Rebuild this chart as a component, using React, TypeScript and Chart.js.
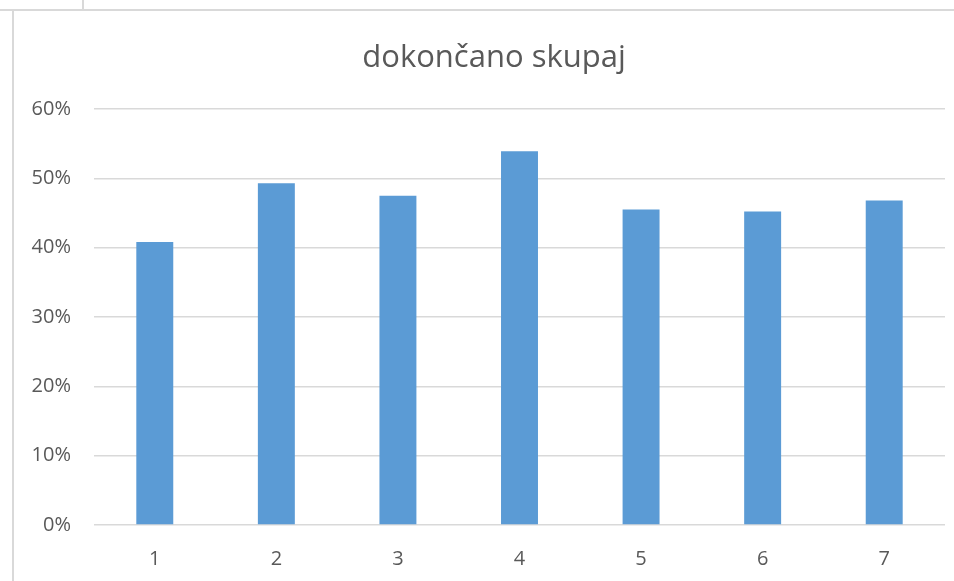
import React, { useEffect, useRef } from "react";
import { Chart, registerables } from "chart.js";

Chart.register(...registerables);

const categories = ["1", "2", "3", "4", "5", "6", "7"];
const completedShare = [0.408, 0.493, 0.475, 0.539, 0.455, 0.452, 0.468];
const yTickLabels = ["0%", "10%", "20%", "30%", "40%", "50%", "60%"];
const chartTitle = "dokončano skupaj";

const TEXT = "#595959";
const GRID = "#d9d9d9";
const BAR = "#5b9bd5";
const FONT = "'Open Sans', 'Noto Sans', sans-serif";

const titlePlugin = {
  id: "offsetTitle",
  afterDraw(chart: any) {
    const ctx = chart.ctx;
    ctx.save();
    ctx.fillStyle = TEXT;
    ctx.font = `31px ${FONT}`;
    ctx.textAlign = "center";
    ctx.textBaseline = "alphabetic";
    ctx.fillText(chartTitle, 494, 67);
    ctx.restore();
  },
};

export default function App() {
  const ref = useRef<HTMLCanvasElement | null>(null);

  useEffect(() => {
    document.body.style.margin = "0";
    const canvas = ref.current;
    if (!canvas) return;
    const chart = new Chart(canvas, {
      type: "bar",
      data: {
        labels: categories,
        datasets: [
          {
            data: completedShare,
            backgroundColor: BAR,
            borderWidth: 0,
            categoryPercentage: 1,
            barPercentage: 0.304,
          },
        ],
      },
      options: {
        animation: false,
        responsive: false,
        maintainAspectRatio: false,
        layout: { padding: { top: 109, left: 20, right: 9, bottom: 0 } },
        plugins: {
          legend: { display: false },
          tooltip: { enabled: false },
          title: { display: false },
        },
        scales: {
          x: {
            grid: { display: false, drawTicks: false },
            border: { display: false },
            ticks: {
              color: TEXT,
              font: { family: FONT, size: 20 },
              padding: 22,
              maxRotation: 0,
            },
            afterFit: (s: any) => {
              s.height = 56;
            },
          },
          y: {
            min: 0,
            max: 0.6,
            grid: { color: GRID, lineWidth: 1.5, drawTicks: false },
            border: { display: false },
            ticks: {
              stepSize: 0.1,
              color: TEXT,
              font: { family: FONT, size: 20 },
              padding: 23,
              callback: (_v: any, i: number) => yTickLabels[i],
            },
            afterFit: (s: any) => {
              s.width = 74;
            },
          },
        },
      },
      plugins: [titlePlugin],
    });
    return () => chart.destroy();
  }, []);

  const line = (style: React.CSSProperties) => (
    <div style={{ position: "absolute", background: GRID, ...style }} />
  );

  return (
    <div style={{ position: "relative", width: 954, height: 581, background: "#fff" }}>
      <canvas ref={ref} width={954} height={581} style={{ display: "block" }} />
      {line({ left: 0, top: 9, width: 954, height: 2 })}
      {line({ left: 82, top: 0, width: 2, height: 10 })}
      {line({ left: 12, top: 11, width: 2, height: 570 })}
    </div>
  );
}
